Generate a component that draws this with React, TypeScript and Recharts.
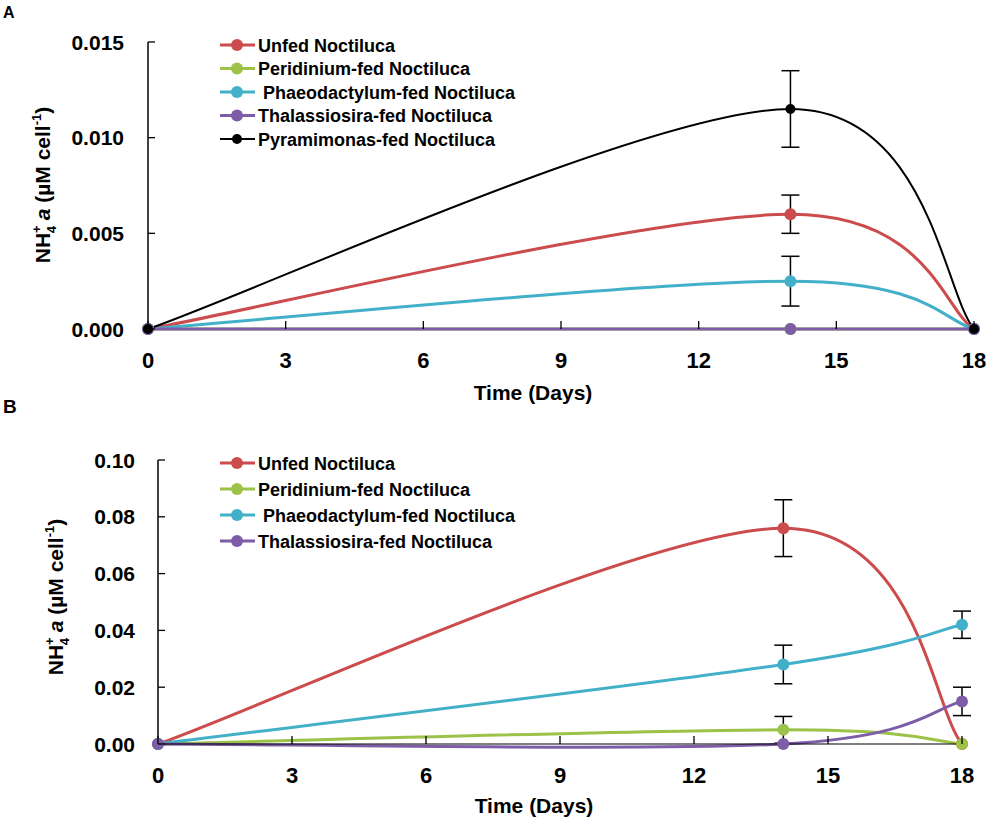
import React from 'react';
import { LineChart, Line, XAxis, YAxis, ErrorBar, Legend } from 'recharts';

const FONT = '"Liberation Sans", Arial, sans-serif';

// ---------- data ----------
const days = [0, 14, 18];
const xTicks = [0, 3, 6, 9, 12, 15, 18];
const yTicksA = [0, 0.005, 0.01, 0.015];
const yTicksB = [0, 0.02, 0.04, 0.06, 0.08, 0.1];

const namesA = [
  'Unfed Noctiluca',
  'Peridinium-fed Noctiluca',
  '\u00A0Phaeodactylum-fed Noctiluca',
  'Thalassiosira-fed Noctiluca',
  'Pyramimonas-fed Noctiluca',
];
const namesB = namesA.slice(0, 4);

// Panel A
const unfedA = [0, 0.006, 0];
const unfedAErr = [0, 0.001, 0];
const peridA = [0, 0, 0];
const peridAErr = [0, 0, 0];
const phaeoA = [0, 0.0025, 0];
const phaeoAErr = [0, 0.0013, 0];
const thalA = [0, 0, 0];
const thalAErr = [0, 0, 0];
const pyramA = [0, 0.0115, 0];
const pyramAErr = [0, 0.002, 0];

// Panel B
const unfedB = [0, 0.076, 0];
const unfedBErr = [0, 0.01, 0];
const peridB = [0, 0.005, 0];
const peridBErr = [0, 0.0047, 0];
const phaeoB = [0, 0.028, 0.042];
const phaeoBErr = [0, 0.0068, 0.0048];
const thalB = [0, 0, 0.015];
const thalBErr = [0, 0, 0.005];

const dataA = days.map((d, i) => ({
  day: d,
  unfed: unfedA[i], unfedErr: unfedAErr[i],
  perid: peridA[i], peridErr: peridAErr[i],
  phaeo: phaeoA[i], phaeoErr: phaeoAErr[i],
  thal: thalA[i], thalErr: thalAErr[i],
  pyram: pyramA[i], pyramErr: pyramAErr[i],
}));

const dataB = days.map((d, i) => ({
  day: d,
  unfed: unfedB[i], unfedErr: unfedBErr[i],
  perid: peridB[i], peridErr: peridBErr[i],
  phaeo: phaeoB[i], phaeoErr: phaeoBErr[i],
  thal: thalB[i], thalErr: thalBErr[i],
}));

// ---------- styles ----------
const RED = '#CC4B4C';
const GREEN = '#9DC249';
const CYAN = '#41B0C8';
const PURPLE = '#7D5DA7';
const BLACK = '#000000';

const seriesA = [
  { key: 'unfed', color: RED, w: 3, r: 6 },
  { key: 'perid', color: GREEN, w: 3, r: 6 },
  { key: 'phaeo', color: CYAN, w: 3, r: 6 },
  { key: 'thal', color: PURPLE, w: 3, r: 6 },
  { key: 'pyram', color: BLACK, w: 2, r: 5 },
];
const seriesB = seriesA.slice(0, 4);

// Excel-style smoothed line (Catmull-Rom with 1/6 control offsets)
function excelSmooth(context: any) {
  let pts: number[][] = [];
  return {
    areaStart() {},
    areaEnd() {},
    lineStart() {
      pts = [];
    },
    point(x: number, y: number) {
      pts.push([+x, +y]);
    },
    lineEnd() {
      const n = pts.length;
      if (!n) return;
      context.moveTo(pts[0][0], pts[0][1]);
      for (let i = 0; i < n - 1; i++) {
        const p0 = pts[Math.max(i - 1, 0)];
        const p1 = pts[i];
        const p2 = pts[i + 1];
        const p3 = pts[Math.min(i + 2, n - 1)];
        context.bezierCurveTo(
          p1[0] + (p2[0] - p0[0]) / 6,
          p1[1] + (p2[1] - p0[1]) / 6,
          p2[0] - (p3[0] - p1[0]) / 6,
          p2[1] - (p3[1] - p1[1]) / 6,
          p2[0],
          p2[1]
        );
      }
    },
  };
}

// ---------- custom axis parts ----------
function XTick(props: any) {
  const { x, y, payload } = props;
  return (
    <g>
      <line x1={x} y1={y} x2={x} y2={y - 8} stroke="#000" strokeWidth={1.3} />
      <text x={x} y={y + 39} textAnchor="middle" fontSize={22} fontWeight="bold" fontFamily={FONT} fill="#000">
        {payload.value}
      </text>
    </g>
  );
}

function YTick(props: any) {
  const { x, y, payload, digits, gap } = props;
  return (
    <g>
      <line x1={x} y1={y} x2={x + 7} y2={y} stroke="#000" strokeWidth={1.3} />
      <text x={x - gap} y={y + 7.5} textAnchor="end" fontSize={21} fontWeight="bold" fontFamily={FONT} fill="#000">
        {Number(payload.value).toFixed(digits)}
      </text>
    </g>
  );
}

function XTitle(props: any) {
  const { tx, ty } = props;
  return (
    <text x={tx} y={ty} textAnchor="middle" fontSize={21} fontWeight="bold" fontFamily={FONT} fill="#000">
      Time (Days)
    </text>
  );
}

function YTitle(props: any) {
  const { tx, ty } = props;
  return (
    <text
      transform={`translate(${tx},${ty}) rotate(-90)`}
      textAnchor="middle"
      fontSize={21}
      fontWeight="bold"
      fontFamily={FONT}
      fill="#000"
    >
      NH
      <tspan fontSize={13} dy={-9}>+</tspan>
      <tspan fontSize={13} dx={-8} dy={15}>4</tspan>
      <tspan dy={-6}>{'\u00A0'}</tspan>
      <tspan fontStyle="italic">a</tspan>
      <tspan>{'\u00A0(\u00B5M cell'}</tspan>
      <tspan fontSize={13} dy={-9}>-1</tspan>
      <tspan dy={9}>)</tspan>
    </text>
  );
}

function LegendBox(props: any) {
  const { names, series, gap } = props;
  return (
    <svg width={360} height={names.length * gap + 20} style={{ display: 'block', overflow: 'visible' }}>
      {names.map((nm: string, i: number) => {
        const s = series[i];
        const cy = 15 + i * gap;
        return (
          <g key={nm}>
            <line x1={5} y1={cy} x2={40} y2={cy} stroke={s.color} strokeWidth={s.w} />
            <circle cx={22} cy={cy} r={s.key === 'pyram' ? 5 : 6} fill={s.color} />
            <text x={43} y={cy + 6.5} fontSize={18} fontWeight="bold" fontFamily={FONT} fill="#000">
              {nm}
            </text>
          </g>
        );
      })}
    </svg>
  );
}

function renderLines(series: any[]) {
  return series.map((s) => (
    <Line
      key={s.key}
      dataKey={s.key}
      type={excelSmooth as any}
      stroke={s.color}
      strokeWidth={s.w}
      dot={{ r: s.r, fill: s.color, stroke: s.color, strokeWidth: 0 }}
      activeDot={false}
      isAnimationActive={false}
    >
      <ErrorBar
        dataKey={s.key + 'Err'}
        direction="y"
        width={9}
        stroke="#000"
        strokeWidth={1.5}
        isAnimationActive={false}
      />
    </Line>
  ));
}

export default function App() {
  return (
    <div style={{ position: 'absolute', left: 0, top: 0, width: 1000, height: 824, background: '#fff' }}>
      <svg width={1000} height={824} style={{ position: 'absolute', left: 0, top: 0 }}>
        <text x={3} y={18} fontSize={16} fontWeight="bold" fontFamily={FONT} fill="#000">A</text>
        <text x={3} y={413} fontSize={19} fontWeight="bold" fontFamily={FONT} fill="#000">B</text>
      </svg>

      <div style={{ position: 'absolute', left: 0, top: 0 }}>
        <LineChart width={1000} height={420} data={dataA} margin={{ top: 42, right: 26, bottom: 0, left: 0 }}>
          <XAxis
            dataKey="day"
            type="number"
            domain={[0, 18]}
            ticks={xTicks}
            interval={0}
            tickSize={0}
            tickMargin={0}
            tickLine={false}
            axisLine={false}
            height={91}
            tick={<XTick />}
            label={<XTitle tx={533} ty={400} />}
          />
          <YAxis
            type="number"
            domain={[0, 0.015]}
            ticks={yTicksA}
            interval={0}
            width={148}
            tickSize={0}
            tickMargin={0}
            tickLine={false}
            axisLine={{ stroke: '#000', strokeWidth: 1.5 }}
            tick={<YTick digits={3} gap={24} />}
            label={<YTitle tx={50} ty={185} />}
          />
          <Legend
            layout="vertical"
            align="center"
            verticalAlign="middle"
            wrapperStyle={{ position: 'absolute', left: 215, top: 30, width: 360, height: 140 }}
            content={() => <LegendBox names={namesA} series={seriesA} gap={23.5} />}
          />
          {renderLines(seriesA)}
        </LineChart>
      </div>

      <div style={{ position: 'absolute', left: 0, top: 420 }}>
        <LineChart width={1000} height={404} data={dataB} margin={{ top: 40, right: 38, bottom: 0, left: 0 }}>
          <XAxis
            dataKey="day"
            type="number"
            domain={[0, 18]}
            ticks={xTicks}
            interval={0}
            tickSize={0}
            tickMargin={0}
            tickLine={false}
            axisLine={{ stroke: '#000', strokeWidth: 1.2 }}
            height={80}
            tick={<XTick />}
            label={<XTitle tx={534} ty={393} />}
          />
          <YAxis
            type="number"
            domain={[0, 0.1]}
            ticks={yTicksB}
            interval={0}
            width={158}
            tickSize={0}
            tickMargin={0}
            tickLine={false}
            axisLine={{ stroke: '#000', strokeWidth: 1.5 }}
            tick={<YTick digits={2} gap={23} />}
            label={<YTitle tx={63} ty={177} />}
          />
          <Legend
            layout="vertical"
            align="center"
            verticalAlign="middle"
            wrapperStyle={{ position: 'absolute', left: 215, top: 28, width: 360, height: 130 }}
            content={() => <LegendBox names={namesB} series={seriesB} gap={26} />}
          />
          {renderLines(seriesB)}
        </LineChart>
      </div>
    </div>
  );
}
